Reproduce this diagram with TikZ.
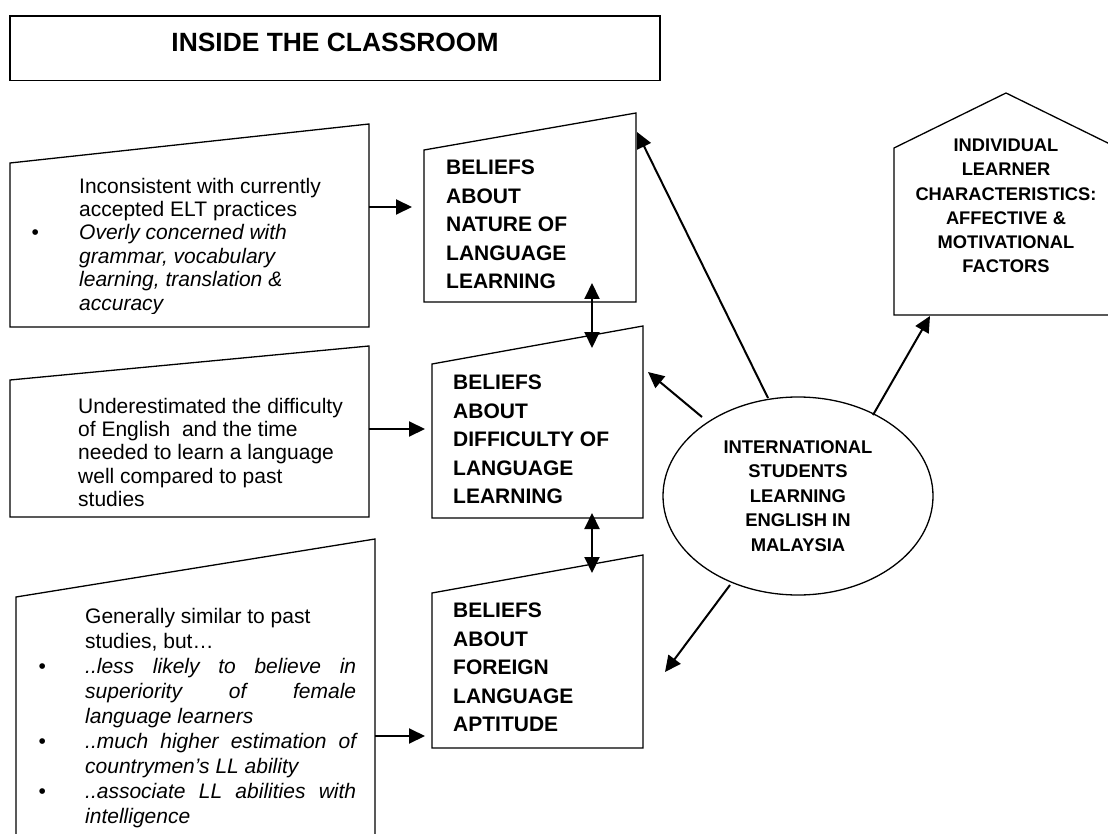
\documentclass[tikz,border=0pt]{standalone}
\usepackage{fontspec}
\setmainfont{Liberation Sans}
\usetikzlibrary{arrows.meta,shapes.geometric}

\tikzset{
  outline/.style={draw, line width=1.3pt, line join=miter},
  link/.style={line width=2pt, -{Triangle[length=16pt,width=15pt]}},
  twoway/.style={line width=2pt, {Triangle[length=16pt,width=15pt]}-{Triangle[length=16pt,width=15pt]}},
  note/.style={inner sep=0pt, align=left, anchor=north west, font=\fontsize{21}{23.4}\selectfont},
  longnote/.style={note, font=\fontsize{21}{25}\selectfont},
  belief/.style={inner sep=0pt, align=left, anchor=north west, font=\fontsize{21}{28.5}\selectfont\bfseries},
  caps/.style={inner sep=0pt, align=center, font=\fontsize{18.3}{24.3}\selectfont\bfseries},
}
\newcommand{\bul}[1]{\llap{\textbullet\hspace{#1}}}
\newcommand{\jline}[1]{\makebox[271pt][s]{#1}}

\begin{document}
\begin{tikzpicture}[x=1pt,y=-1pt]
\useasboundingbox (0,0) rectangle (1108,834);
\clip (0,0) rectangle (1108,834);

% title bar
\draw[line width=1.6pt] (10,16) rectangle (660,80.7);
\node[inner sep=0pt, font=\fontsize{26.4}{30}\selectfont\bfseries] (title) at (335,42.5) {INSIDE THE CLASSROOM};

% findings boxes on the left
\draw[outline] (10,163) -- (369,124) -- (369,327) -- (10,327) -- cycle;
\draw[outline] (10,380) -- (369,346) -- (369,517) -- (10,517) -- cycle;
\draw[outline] (16,597) -- (375,539) -- (375,850) -- (16,850) -- cycle;

\begin{scope}
  \clip (10,124) rectangle (369,313);
  \node[note] (findA) at (79,177.7) {Inconsistent with currently\\
    accepted ELT practices\\
    \bul{40.3pt}\itshape Overly concerned with\\
    \itshape grammar, vocabulary\\
    \itshape learning, translation \&\\
    \itshape accuracy};
\end{scope}

\node[note] (findB) at (78,397.7) {Underestimated the difficulty\\
  of English \ and the time\\
  needed to learn a language\\
  well compared to past\\
  studies};

\node[longnote] (findC) at (85,607.7) {Generally similar to past\\
  studies, but…\\
  \bul{39.3pt}\jline{\itshape ..less likely to believe in}\\
  \jline{\itshape superiority of female}\\
  \itshape language learners\\
  \bul{39.3pt}\jline{\itshape ..much higher estimation of}\\
  \itshape countrymen’s LL ability\\
  \bul{39.3pt}\jline{\itshape ..associate LL abilities with}\\
  \itshape intelligence};

% belief boxes in the middle
\draw[outline] (424,150) -- (636,113) -- (636,302) -- (424,302) -- cycle;
\draw[outline] (432,364) -- (643,326) -- (643,518) -- (432,518) -- cycle;
\draw[outline] (432,593) -- (643,555) -- (643,748) -- (432,748) -- cycle;

\node[belief] (nature) at (446,160) {BELIEFS\\ABOUT\\NATURE OF\\LANGUAGE\\LEARNING};
\node[belief] (difficulty) at (453,375) {BELIEFS\\ABOUT\\DIFFICULTY OF\\LANGUAGE\\LEARNING};
\node[belief] (aptitude) at (453,603) {BELIEFS\\ABOUT\\FOREIGN\\LANGUAGE\\APTITUDE};

% central learners
\node[draw, ellipse, line width=1.3pt, inner sep=0pt, minimum width=270pt, minimum height=198pt,
      caps, font=\fontsize{18.4}{24.5}\selectfont\bfseries] (learners) at (798,496)
  {INTERNATIONAL\\STUDENTS\\LEARNING\\ENGLISH IN\\MALAYSIA};

% individual characteristics
\draw[outline] (894,315) -- (894,148) -- (1006,93) -- (1118,148) -- (1118,315) -- cycle;
\node[caps] (traits) at (1006,206) {INDIVIDUAL\\LEARNER\\CHARACTERISTICS:\\AFFECTIVE \&\\MOTIVATIONAL\\FACTORS};

% connector end points
\coordinate (aOut) at (369,207);  \coordinate (aIn) at (412,207);
\coordinate (bOut) at (369,429);  \coordinate (bIn) at (425,429);
\coordinate (cOut) at (375,736);  \coordinate (cIn) at (425,736);
\coordinate (n12top) at (592,283); \coordinate (n12bot) at (592,348);
\coordinate (n23top) at (592,513); \coordinate (n23bot) at (592,573);
\coordinate (toNature) at (637,132);   \coordinate (fromTop) at (768,398);
\coordinate (toDiff) at (648,372);     \coordinate (fromLeft) at (702,417);
\coordinate (toApt) at (665,672);      \coordinate (fromLow) at (730,585);
\coordinate (toTraits) at (930,316);   \coordinate (fromRight) at (873,415);

\draw[link] (aOut) -- (aIn);
\draw[link] (bOut) -- (bIn);
\draw[link] (cOut) -- (cIn);
\draw[twoway] (n12top) -- (n12bot);
\draw[twoway] (n23top) -- (n23bot);
\draw[link] (fromTop) -- (toNature);
\draw[link] (fromLeft) -- (toDiff);
\draw[link] (fromLow) -- (toApt);
\draw[link] (fromRight) -- (toTraits);
\end{tikzpicture}
\end{document}
